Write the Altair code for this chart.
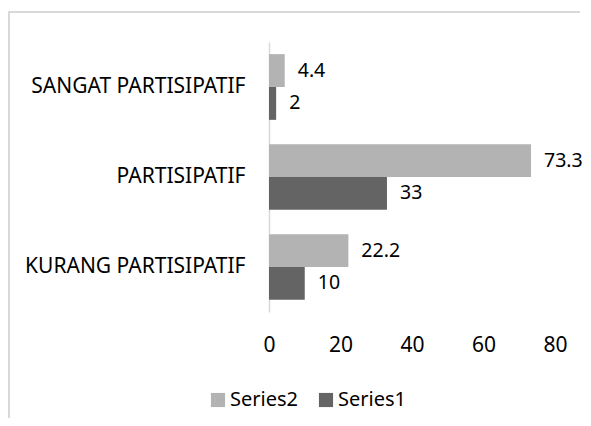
import altair as alt
import pandas as pd

categories = ["SANGAT PARTISIPATIF", "PARTISIPATIF", "KURANG PARTISIPATIF"]
series2 = [4.4, 73.3, 22.2]
series1 = [2, 33, 10]
series_names = ["Series2", "Series1"]
x_ticks = [0, 20, 40, 60, 80]

rows = []
for c, v in zip(categories, series2):
    rows.append({"cat": c, "series": "Series2", "value": v})
for c, v in zip(categories, series1):
    rows.append({"cat": c, "series": "Series1", "value": v})
df = pd.DataFrame(rows)

FONT = "Noto Sans"
FS = 21
colors = ["#b3b3b3", "#646464"]

PAD_L, PAD_T, W, H = 261, 34, 286, 270
TOTAL_W, TOTAL_H = 575, 410

y_enc = alt.Y("cat:N", sort=categories, title=None,
              scale=alt.Scale(paddingInner=0.27, paddingOuter=0.135),
              axis=alt.Axis(domainColor="#d9d9d9", domainWidth=1.5, ticks=False,
                            labelPadding=24, labelFontSize=FS, labelFont=FONT,
                            labelColor="#000000", labelLimit=400))
x_enc = alt.X("value:Q", title=None,
              scale=alt.Scale(domain=[0, 80], nice=False),
              axis=alt.Axis(values=x_ticks, grid=False, domain=False, ticks=False,
                            labelFlush=False, labelOverlap=False,
                            labelPadding=22, labelFontSize=FS, labelFont=FONT,
                            labelColor="#000000"))
yoff = alt.YOffset("series:N", sort=series_names)

bars = alt.Chart(df).mark_bar().encode(
    y=y_enc, x=x_enc, yOffset=yoff,
    color=alt.Color("series:N", sort=series_names,
                    scale=alt.Scale(domain=series_names, range=colors),
                    legend=alt.Legend(title=None, orient="none", direction="horizontal",
                                      legendX=-61, legendY=348, symbolType="square",
                                      symbolSize=200, symbolStrokeWidth=0,
                                      labelFontSize=20, labelFont=FONT, labelOffset=2,
                                      labelColor="#000000", columnPadding=18,
                                      symbolOpacity=1)),
)

labels = alt.Chart(df).mark_text(align="left", baseline="middle", dx=13,
                                 fontSize=19.5, font=FONT, color="#000000").encode(
    y=alt.Y("cat:N", sort=categories), x="value:Q", yOffset=yoff,
    text=alt.Text("value:Q"),
)

one = pd.DataFrame({"a": [0]})
left_line = alt.Chart(one).mark_rule(color="#d9d9d9", strokeWidth=2).encode(
    x=alt.value(-PAD_L + 1), y=alt.value(-PAD_T + 4), y2=alt.value(TOTAL_H - PAD_T))
top_line = alt.Chart(one).mark_rule(color="#d9d9d9", strokeWidth=2).encode(
    x=alt.value(-PAD_L), x2=alt.value(TOTAL_W - PAD_L - 3), y=alt.value(-PAD_T + 4))

chart = alt.layer(left_line, top_line, bars, labels).properties(
    width=W, height=H,
    autosize=alt.AutoSizeParams(type="none"),
    padding={"left": PAD_L, "top": PAD_T, "right": TOTAL_W - PAD_L - W,
             "bottom": TOTAL_H - PAD_T - H},
).configure_view(stroke=None)

chart.save("out.html", embed_options={"renderer": "svg", "actions": False})
